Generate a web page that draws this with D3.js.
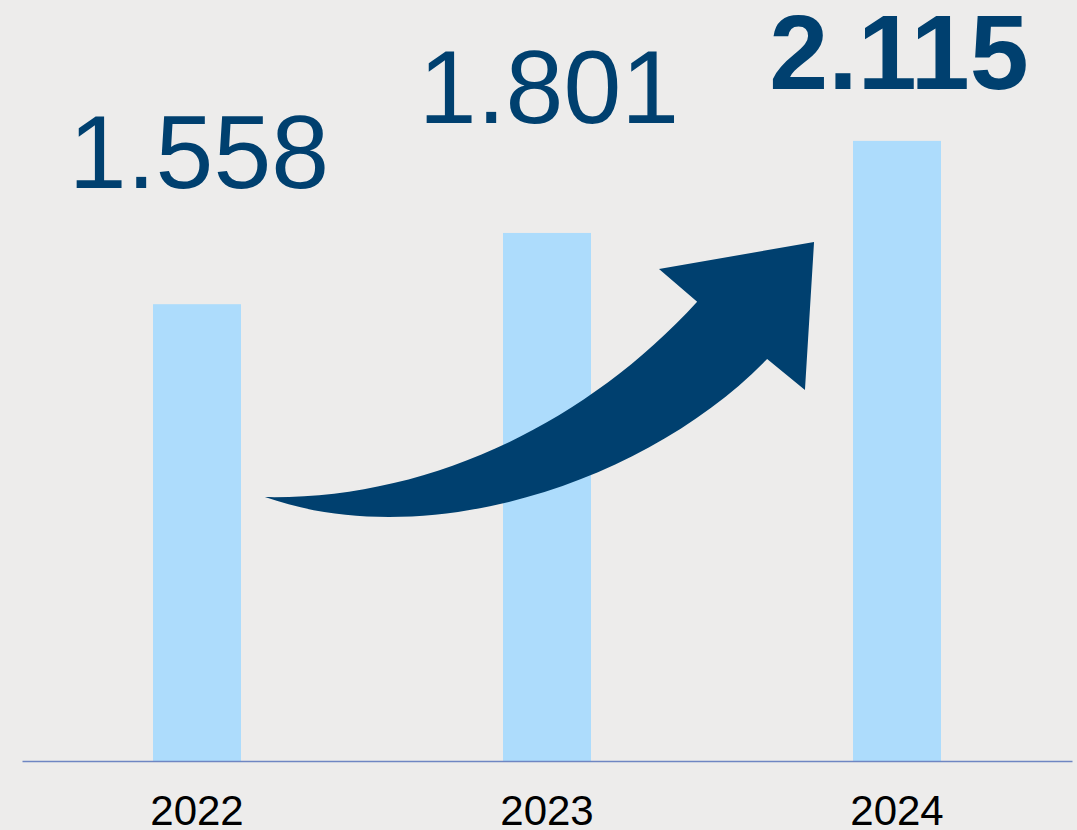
<!DOCTYPE html>
<html>
<head>
<meta charset="utf-8">
<script src="https://cdn.jsdelivr.net/npm/d3@7"></script>
<style>
  html, body { margin: 0; padding: 0; background: #edeceb; overflow: hidden; }
  svg { display: block; }
</style>
</head>
<body>
<svg id="chart"></svg>
<script>
// data
var years = ["2022", "2023", "2024"];
var values = [1.558, 1.801, 2.115];
var valueLabels = ["1.558", "1.801", "2.115"];
var boldLabel = [false, false, true];

// arrow outline, in (category index, value) space
var arrowTail = [0.194, 0.900];
var arrowUpper = [[0.637, 0.890], [1.094, 1.129], [1.429, 1.566]];
var arrowHead = [[1.320, 1.678], [1.763, 1.770], [1.737, 1.265], [1.629, 1.371]];
var arrowLower = [[1.294, 0.958], [0.666, 0.703]];

(function(){
  var width = 1077,
    height = 830,
    baseline = 761,
    labelGap = [116, 110, 52],
    darkBlue = "#00406f",
    svg, x, xi, y;

  function init(){
    svg = d3.select("#chart")
      .attr("width", width)
      .attr("height", height);

    x = d3.scaleBand()
      .domain(years)
      .range([22, 1072])
      .paddingInner(0.7486)
      .paddingOuter(0.3743);

    // index -> band centre, used for the arrow
    xi = d3.scaleLinear()
      .domain([0, years.length - 1])
      .range([x(years[0]) + x.bandwidth() / 2, x(years[years.length - 1]) + x.bandwidth() / 2]);

    y = d3.scaleLinear()
      .domain([0, 2.5])
      .range([baseline, baseline - 2.5 * 293.2]);

    drawBars();
    drawAxis();
    drawArrow();
    drawLabels();
  }

  function drawBars(){
    svg.selectAll("rect.bar")
      .data(values)
      .enter()
      .append("rect")
      .attr("class", "bar")
      .attr("x", function(d, i){ return x(years[i]); })
      .attr("width", x.bandwidth())
      .attr("y", function(d){ return y(d); })
      .attr("height", function(d){ return y(0) - y(d); })
      .attr("fill", "#addcfc");
  }

  function drawAxis(){
    var xAxis = d3.axisBottom(x).tickSize(0).tickPadding(34);
    var g = svg.append("g")
      .attr("class", "x axis")
      .attr("transform", "translate(0," + y(0) + ")")
      .call(xAxis);
    g.select(".domain")
      .attr("stroke", "#6f86c2")
      .attr("stroke-width", 1.5);
    g.selectAll("text")
      .attr("font-family", "Liberation Sans, Arial, sans-serif")
      .attr("font-size", 42)
      .attr("fill", "#000")
      .attr("dy", "0.71em");
  }

  function pt(p){ return xi(p[0]) + "," + y(p[1]); }

  function drawArrow(){
    var d = "M" + pt(arrowTail)
      + "C" + pt(arrowUpper[0]) + " " + pt(arrowUpper[1]) + " " + pt(arrowUpper[2])
      + "L" + arrowHead.map(pt).join("L")
      + "C" + pt(arrowLower[0]) + " " + pt(arrowLower[1]) + " " + pt(arrowTail)
      + "Z";
    svg.append("path")
      .attr("d", d)
      .attr("fill", darkBlue);
  }

  function drawLabels(){
    svg.selectAll("text.value")
      .data(values)
      .enter()
      .append("text")
      .attr("class", "value")
      .attr("x", function(d, i){ return x(years[i]) + x.bandwidth() / 2 + 2; })
      .attr("y", function(d, i){ return y(d) - labelGap[i]; })
      .attr("text-anchor", "middle")
      .attr("font-family", "Liberation Sans, Arial, sans-serif")
      .attr("font-size", function(d, i){ return boldLabel[i] ? 106 : 104; })
      .attr("font-weight", function(d, i){ return boldLabel[i] ? "bold" : "normal"; })
      .attr("fill", darkBlue)
      .text(function(d, i){ return valueLabels[i]; });
  }

  init();
})();
</script>
</body>
</html>
